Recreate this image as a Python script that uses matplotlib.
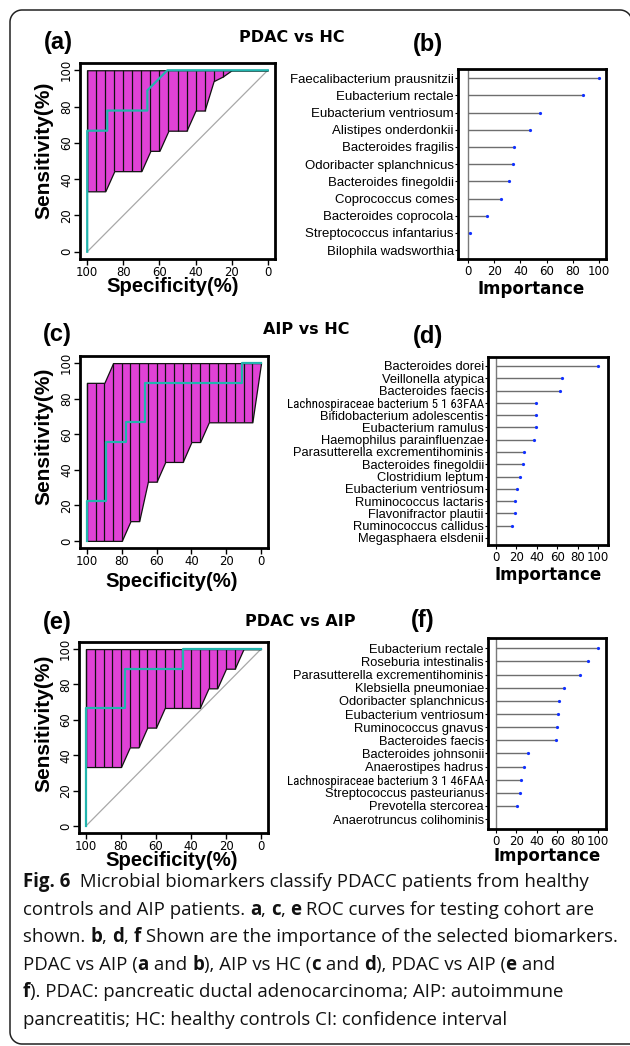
import matplotlib
matplotlib.use('Agg')
import matplotlib.pyplot as plt
from matplotlib import font_manager
import numpy as np

W, H = 630, 1046

# ---- ROC data (confidence band sampled every 5% specificity) ----
spec_grid = [100, 95, 90, 85, 80, 75, 70, 65, 60, 55, 50, 45, 40, 35, 30, 25, 20, 15, 10, 5, 0]

a_lower = [33.3, 33.3, 33.3, 44.4, 44.4, 44.4, 44.4, 55.6, 55.6, 66.7, 66.7, 66.7, 77.8, 77.8,
           94.0, 96.5, 100, 100, 100, 100, 100]
a_upper = [100, 100, 100, 100, 100, 100, 100, 100, 100, 100, 100, 100, 100, 100,
           100, 100, 100, 100, 100, 100, 100]
a_spec = [100, 100, 100, 88.9, 88.9, 66.7, 66.7, 55.6, 0]
a_sens = [0, 33.3, 66.7, 66.7, 77.8, 77.8, 88.9, 100, 100]

c_lower = [0, 0, 0, 0, 0, 11.1, 11.1, 33.3, 33.3, 44.4, 44.4, 44.4, 55.6, 55.6,
           66.7, 66.7, 66.7, 66.7, 66.7, 66.7, 100]
c_upper = [88.9, 88.9, 88.9, 100, 100, 100, 100, 100, 100, 100, 100, 100, 100, 100,
           100, 100, 100, 100, 100, 100, 100]
c_spec = [100, 100, 88.9, 88.9, 77.8, 77.8, 66.7, 66.7, 11.1, 11.1, 0]
c_sens = [0, 22.2, 22.2, 55.6, 55.6, 66.7, 66.7, 88.9, 88.9, 100, 100]

e_lower = [33.3, 33.3, 33.3, 33.3, 33.3, 44.4, 44.4, 55.6, 55.6, 66.7, 66.7, 66.7, 66.7, 66.7,
           77.8, 77.8, 88.9, 88.9, 100, 100, 100]
e_upper = [100, 100, 100, 100, 100, 100, 100, 100, 100, 100, 100, 100, 100, 100,
           100, 100, 100, 100, 100, 100, 100]
e_spec = [100, 100, 77.8, 77.8, 44.4, 44.4, 0]
e_sens = [0, 66.7, 66.7, 88.9, 88.9, 100, 100]

# ---- importance data ----
b_names = ['Faecalibacterium prausnitzii', 'Eubacterium rectale', 'Eubacterium ventriosum',
           'Alistipes onderdonkii', 'Bacteroides fragilis', 'Odoribacter splanchnicus',
           'Bacteroides finegoldii', 'Coprococcus comes', 'Bacteroides coprocola',
           'Streptococcus infantarius', 'Bilophila wadsworthia']
b_values = [100, 88, 55, 47.5, 35, 34, 31.5, 25.5, 14.5, 1.3, 0]

d_names = ['Bacteroides dorei', 'Veillonella atypica', 'Bacteroides faecis',
           'Lachnospiraceae bacterium 5 1 63FAA', 'Bifidobacterium adolescentis',
           'Eubacterium ramulus', 'Haemophilus parainfluenzae', 'Parasutterella excrementihominis',
           'Bacteroides finegoldii', 'Clostridium leptum', 'Eubacterium ventriosum',
           'Ruminococcus lactaris', 'Flavonifractor plautii', 'Ruminococcus callidus',
           'Megasphaera elsdenii']
d_values = [100, 64.3, 62.3, 39.6, 39.3, 39, 37.3, 27.9, 26.3, 24, 20.5, 18.8, 18.2, 16.2, 0]

f_names = ['Eubacterium rectale', 'Roseburia intestinalis', 'Parasutterella excrementihominis',
           'Klebsiella pneumoniae', 'Odoribacter splanchnicus', 'Eubacterium ventriosum',
           'Ruminococcus gnavus', 'Bacteroides faecis', 'Bacteroides johnsonii',
           'Anaerostipes hadrus', 'Lachnospiraceae bacterium 3 1 46FAA',
           'Streptococcus pasteurianus', 'Prevotella stercorea', 'Anaerotruncus colihominis']
f_values = [100, 90.3, 82.1, 66.2, 62, 60.4, 60.1, 58.4, 31.8, 27.9, 24.7, 24, 20.5, 0]

MAG = '#E042D6'
TEAL = '#22B4AE'

# a condensed face for the long Lachnospiraceae labels, if one is installed
narrow_family, narrow_size = 'Liberation Sans', 8.3
for fam in ['Liberation Sans Narrow', 'Roboto Condensed', 'DejaVu Sans Condensed']:
    try:
        font_manager.findfont(font_manager.FontProperties(family=fam), fallback_to_default=False)
        narrow_family, narrow_size = fam, 9.3
        break
    except ValueError:
        pass

fig = plt.figure(figsize=(W / 100, H / 100), dpi=100)

# background axes in pixel units for the frame, titles and caption
bg = fig.add_axes([0, 0, 1, 1])
bg.set_xlim(0, W)
bg.set_ylim(H, 0)
bg.axis('off')

# open frame: rounded corners, right side runs off the page
r = 12
L, T, R, B = 10, 10, 632, 1044
th = np.linspace(0, np.pi / 2, 20)
fx = np.concatenate([[W + 20, L + r], L + r - r * np.sin(th), [L], L + r - r * np.cos(th),
                     [R - r], R - r + r * np.sin(th), [R]])
fy = np.concatenate([[B, B], B - r + r * np.cos(th), [T + r], T + r - r * np.sin(th),
                     [T], T + r - r * np.cos(th), [H + 20]])
bg.plot(fx, fy, color='#222222', lw=1.1, solid_capstyle='butt')


def box(l, t, r, b):
    return [l / W, 1 - b / H, (r - l) / W, (b - t) / H]


def roc_panel(rect, lower, upper, cx, cy, auc_txt, ci_txt, auc_pos, ci_pos):
    ax = fig.add_axes(box(*rect))
    ax.plot([100, 0], [0, 100], color='#a8a8a8', lw=0.9, zorder=1)
    ax.fill_between(spec_grid, lower, upper, facecolor=MAG, edgecolor='#111111', lw=0.9, zorder=2)
    s = np.array(spec_grid)
    lo = np.array(lower)
    up = np.array(upper)
    m = up > lo
    ax.vlines(s[m], lo[m], up[m], color='#111111', lw=0.9, zorder=3)
    ax.plot(cx, cy, color=TEAL, lw=1.6, zorder=4)
    ax.set_xlim(104, -4)
    ax.set_ylim(-4, 104)
    ticks = [0, 20, 40, 60, 80, 100]
    ax.set_xticks(ticks)
    ax.set_yticks(ticks)
    ax.set_xticklabels([str(t) for t in ticks])
    ax.set_yticklabels([str(t) for t in ticks], rotation=90, va='center')
    ax.tick_params(direction='out', length=4, width=1, labelsize=8.4, pad=1)
    for sp in ax.spines.values():
        sp.set_linewidth(2)
    bg.text(auc_pos[0], auc_pos[1], auc_txt, ha='center', va='center', fontsize=9.6)
    bg.text(ci_pos[0], ci_pos[1], ci_txt, ha='center', va='center', fontsize=9.6)
    return ax


def imp_panel(rect, names, values, xlim, ylim, fs):
    ax = fig.add_axes(box(*rect))
    y = np.arange(len(names))
    v = np.array(values)
    ax.axvline(0, color='#7a7a7a', lw=1)
    ax.hlines(y, 0, v, color='#6e6e6e', lw=1)
    nz = v > 0
    ax.plot(v[nz], y[nz], 'o', color='#1030ff', ms=2.3, mew=0)
    ax.set_yticks(y)
    ax.set_yticklabels(names, fontsize=fs, family='Liberation Sans')
    for lab in ax.get_yticklabels():
        if lab.get_text().startswith('Lachno'):
            lab.set_family(narrow_family)
            lab.set_fontsize(narrow_size)
    ax.set_xticks([0, 20, 40, 60, 80, 100])
    ax.set_xlim(*xlim)
    ax.set_ylim(*ylim)
    ax.tick_params(axis='y', length=2, pad=1)
    ax.tick_params(axis='x', length=3, labelsize=8.5, pad=1.5)
    for sp in ax.spines.values():
        sp.set_linewidth(2)
    return ax


roc_panel((80, 63, 275, 259), a_lower, a_upper, a_spec, a_sens,
          'AUC=90.74%', '95% CI:77.4-100%', (202, 209), (201, 231))
roc_panel((80, 356, 268, 548), c_lower, c_upper, c_spec, c_sens,
          'AUC=76.54%', '95% CI:52.5-100%', (202, 510), (201, 529))
roc_panel((79, 642, 268, 833), e_lower, e_upper, e_spec, e_sens,
          'AUC=88.89%', '95% CI:73.49-100%', (202, 792), (198, 812))

imp_panel((458, 69, 606, 259), b_names, b_values, (-7.6, 105.3), (10.52, -0.54), 9.5)
imp_panel((488, 357, 608, 545), d_names, d_values, (-7.8, 109.8), (14.57, -0.73), 9.3)
imp_panel((488, 638, 606, 829), f_names, f_values, (-7.8, 107.8), (13.76, -0.79), 9.3)

# titles and labels
for txt, x, y in [('PDAC vs HC', 292, 37.5), ('AIP vs HC', 306, 330), ('PDAC vs AIP', 300, 622)]:
    bg.text(x, y, txt, ha='center', va='center', fontsize=11.5, fontweight='bold')
for txt, x, y in [('(a)', 58, 42), ('(b)', 428, 44), ('(c)', 57, 335),
                  ('(d)', 428, 336), ('(e)', 57, 623), ('(f)', 423, 621)]:
    bg.text(x, y, txt, ha='center', va='center', fontsize=17, fontweight='bold',
            family='Liberation Sans')
for x, y in [(44, 150), (44, 436), (44, 723)]:
    bg.text(x, y, 'Sensitivity(%)', ha='center', va='center', rotation=90,
            fontsize=15, fontweight='bold', family='Liberation Sans')
for x, y in [(173, 287), (172, 581.5), (172, 861)]:
    bg.text(x, y, 'Specificity(%)', ha='center', va='center',
            fontsize=14.6, fontweight='bold', family='Liberation Sans')
for x, y in [(531, 289), (548, 575.5), (547, 856)]:
    bg.text(x, y, 'Importance', ha='center', va='center', fontsize=12, fontweight='bold')

# caption with bold pieces
caption = [
    [('Fig. 6', True), ('  Microbial biomarkers classify PDACC patients from healthy', False)],
    [('controls and AIP patients. ', False), ('a', True), (', ', False), ('c', True), (', ', False),
     ('e', True), (' ROC curves for testing cohort are', False)],
    [('shown. ', False), ('b', True), (', ', False), ('d', True), (', ', False), ('f', True),
     (' Shown are the importance of the selected biomarkers.', False)],
    [('PDAC vs AIP (', False), ('a', True), (' and ', False), ('b', True), ('), AIP vs HC (', False),
     ('c', True), (' and ', False), ('d', True), ('), PDAC vs AIP (', False), ('e', True), (' and', False)],
    [('f', True), ('). PDAC: pancreatic ductal adenocarcinoma; AIP: autoimmune', False)],
    [('pancreatitis; HC: healthy controls CI: confidence interval', False)],
]
renderer = fig.canvas.get_renderer()
cap_kw = dict(fontsize=13.4, family='Open Sans', va='center', ha='left', color='#111111')


def text_width(s, bold):
    t1 = bg.text(0, 0, s + '|', fontweight='bold' if bold else 'normal', **cap_kw)
    t2 = bg.text(0, 0, '|', fontweight='bold' if bold else 'normal', **cap_kw)
    w = t1.get_window_extent(renderer).width - t2.get_window_extent(renderer).width
    t1.remove()
    t2.remove()
    return w


for i, line in enumerate(caption):
    x = 23
    y = 882 + 27.6 * i
    for s, bold in line:
        bg.text(x, y, s, fontweight='bold' if bold else 'normal', **cap_kw)
        x += text_width(s, bold)

fig.savefig('out.png', dpi=100)
